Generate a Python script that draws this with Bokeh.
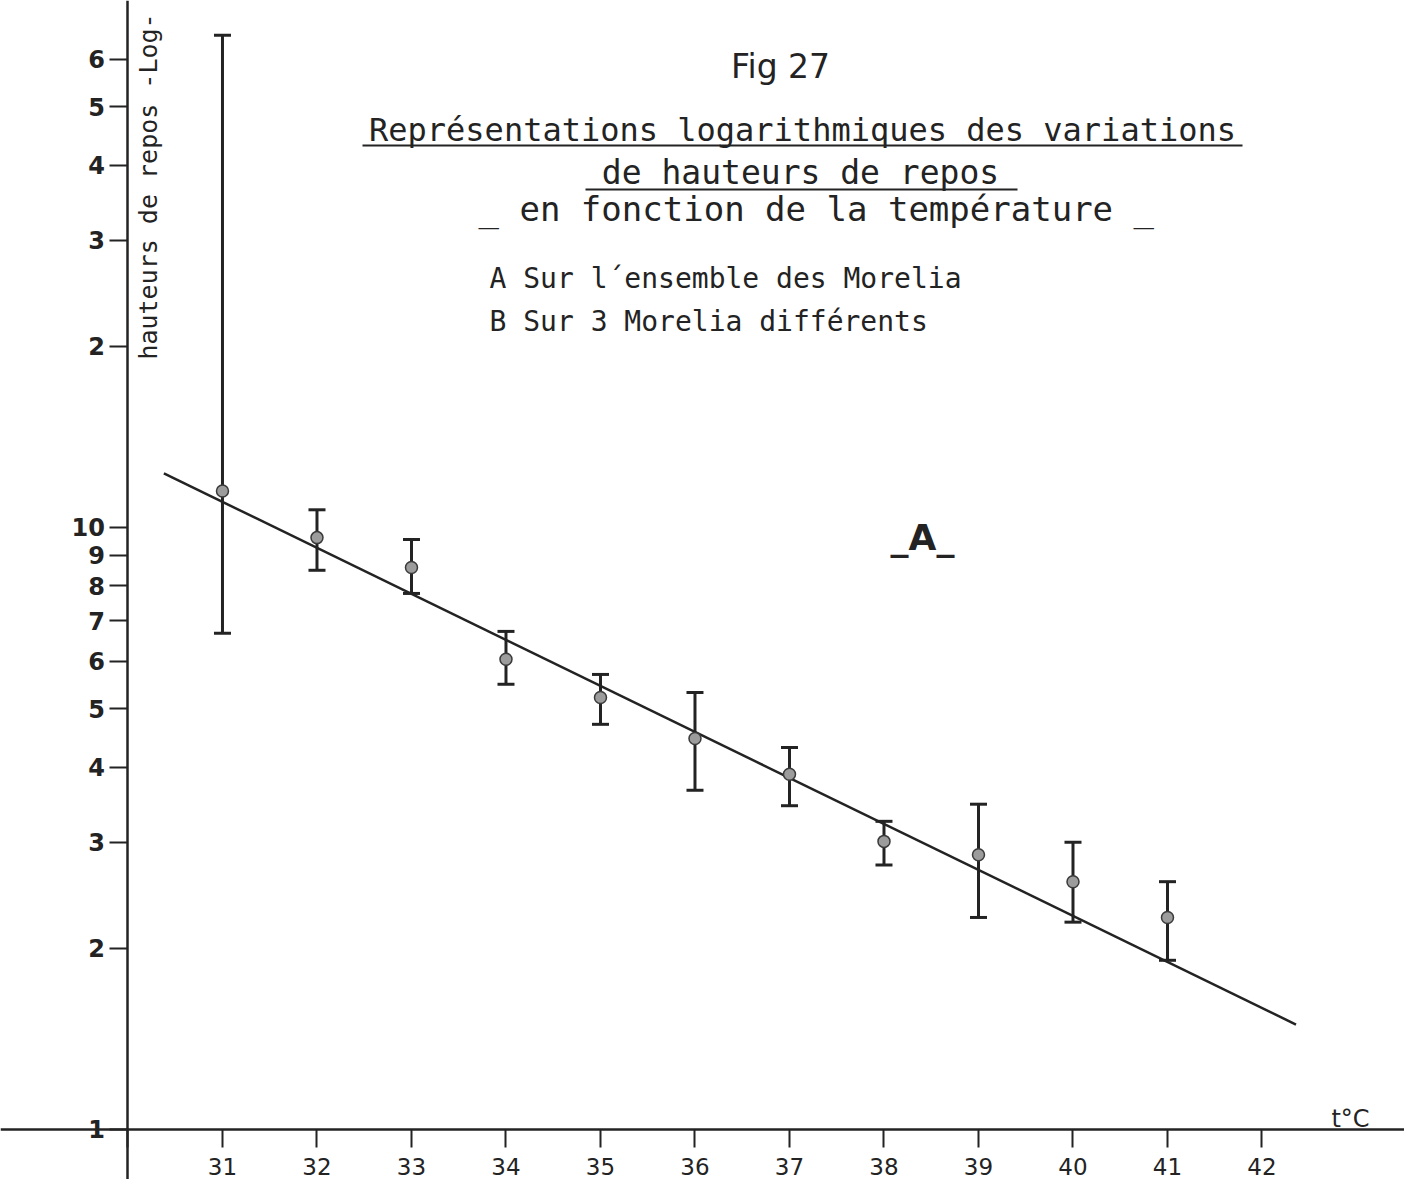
import math
from bokeh.plotting import figure
from bokeh.models import ColumnDataSource, FixedTicker, Whisker, TeeHead, Label, Range1d
from bokeh.embed import file_html
from bokeh.resources import INLINE

# ---- data ----
temperature = [31, 32, 33, 34, 35, 36, 37, 38, 39, 40, 41]
hauteur = [11.5, 9.62, 8.58, 6.04, 5.22, 4.46, 3.89, 3.01, 2.86, 2.58, 2.25]
err_upper = [65.7, 10.7, 9.55, 6.72, 5.70, 5.32, 4.31, 3.25, 3.47, 3.00, 2.58]
err_lower = [6.67, 8.49, 7.77, 5.49, 4.71, 3.66, 3.45, 2.75, 2.25, 2.21, 1.91]
reg_x = [30.38, 42.36]
reg_y = [12.3, 1.494]

x_ticks = [30, 31, 32, 33, 34, 35, 36, 37, 38, 39, 40, 41, 42]
x_tick_labels = ["", "31", "32", "33", "34", "35", "36", "37", "38", "39", "40", "41", "42"]
y_ticks = [1, 2, 3, 4, 5, 6, 7, 8, 9, 10, 20, 30, 40, 50, 60]
y_tick_labels = ["1", "2", "3", "4", "5", "6", "7", "8", "9", "10", "2", "3", "4", "5", "6"]

# ---- geometry ----
W, H = 1404, 1179
X0, X1 = 28.651, 43.508
LOGTOP, LOGBOT = 1.8754, -0.0831
INK = "#232323"
FONT = "DejaVu Sans"
MONO = "DejaVu Sans Mono"

def dx(px):
    return X0 + (px - 8) / W * (X1 - X0)

def dy(py):
    return 10 ** (LOGTOP - (py - 8) / H * (LOGTOP - LOGBOT))

p = figure(width=W, height=H, x_range=Range1d(X0, X1),
           y_range=Range1d(10 ** LOGBOT, 10 ** LOGTOP), y_axis_type="log",
           output_backend="svg", toolbar_location=None, min_border=0,
           background_fill_color="white", border_fill_color="white")
p.outline_line_color = None
p.grid.visible = False

# axes crossing at (30, 1)
p.xaxis.fixed_location = 1
p.yaxis.fixed_location = 30
for ax in (p.xaxis, p.yaxis):
    ax.axis_line_color = INK
    ax.axis_line_width = 2.5
    ax.major_tick_line_color = INK
    ax.major_tick_line_width = 2
    ax.major_tick_in = 0
    ax.minor_tick_line_color = None
    ax.major_label_text_color = INK
    ax.major_label_text_font = FONT
p.xaxis.ticker = FixedTicker(ticks=x_ticks)
p.xaxis.major_label_overrides = {t: l for t, l in zip(x_ticks, x_tick_labels)}
p.xaxis.major_tick_out = 18
p.xaxis.major_label_standoff = 11
p.xaxis.major_label_text_font_size = "23px"
p.yaxis.ticker = FixedTicker(ticks=y_ticks)
p.yaxis.major_label_overrides = {t: l for t, l in zip(y_ticks, y_tick_labels)}
p.yaxis.major_tick_out = 18
p.yaxis.major_label_standoff = 5
p.yaxis.major_label_text_font_size = "24px"
p.yaxis.major_label_text_font_style = "bold"

# regression line
p.line(reg_x, reg_y, line_color=INK, line_width=2.5)

# error bars
src = ColumnDataSource(dict(x=temperature, y=hauteur, up=err_upper, lo=err_lower))
wh = Whisker(base="x", upper="up", lower="lo", source=src, line_color=INK, line_width=3,
             upper_head=TeeHead(size=17, line_color=INK, line_width=3),
             lower_head=TeeHead(size=17, line_color=INK, line_width=3))
p.add_layout(wh)

# points
p.scatter("x", "y", source=src, size=12, fill_color="#9c9c9c", line_color="#3a3a3a", line_width=1.5)

# ---- texts ----
def lab(text, px, py, size, align="center", style="normal", angle=0, font=FONT):
    p.add_layout(Label(x=dx(px), y=dy(py), text=text, text_align=align, text_baseline="middle",
                       text_font=font, text_font_size=size, text_color=INK,
                       text_font_style=style, angle=angle))

lab("Fig 27", 788, 74, "33px")
lab("Représentations logarithmiques des variations", 810, 137, "32px", font=MONO)
lab("de hauteurs de repos", 808, 180, "33px", font=MONO)
lab("_ en fonction  de la température _", 834, 216, "34px", font=MONO)
lab("A Sur l´ensemble des Morelia", 497, 286, "28px", align="left", font=MONO)
lab("B Sur 3 Morelia différents", 497, 329, "28px", align="left", font=MONO)
lab("_A_", 930, 545, "36px", style="bold")
lab("t°C", 1358, 1126, "24px")
lab("hauteurs de repos -Log-", 156, 194, "25px", angle=math.pi / 2, font=MONO)

# underlines of the title
p.segment(x0=[dx(370), dx(593)], y0=[dy(153), dy(197)], x1=[dx(1250), dx(1025)], y1=[dy(153), dy(197)],
          line_color=INK, line_width=2)

open("out.html", "w").write(file_html(p, INLINE))
